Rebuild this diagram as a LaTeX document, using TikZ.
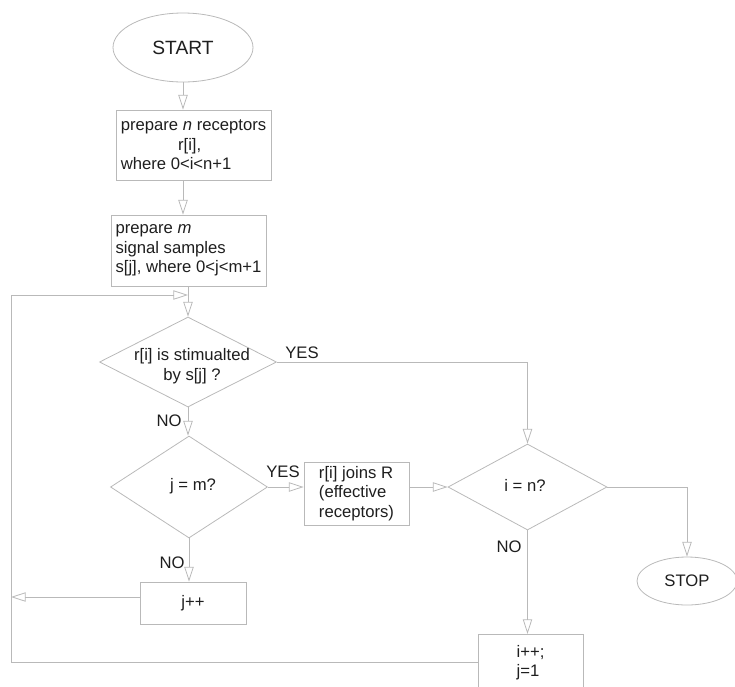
\documentclass[tikz,border=0pt]{standalone}
\usepackage{fontspec}
\setmainfont{Liberation Sans}
\usetikzlibrary{shapes.geometric,arrows.meta}
\definecolor{ln}{RGB}{185,185,185}
\definecolor{tx}{RGB}{30,30,30}
\begin{document}
\begin{tikzpicture}[x=0.75pt,y=-0.75pt,
  every node/.style={font=\fontsize{12.5}{14.5}\selectfont, text=tx},
  box/.style={draw=ln, line width=0.6pt, rectangle, inner sep=0pt},
  dia/.style={draw=ln, line width=0.6pt, diamond, inner sep=0pt},
  oval/.style={draw=ln, line width=0.6pt, ellipse, inner sep=0pt},
  con/.style={draw=ln, line width=0.6pt},
  arr/.style={con, -{Triangle[open, length=11pt, width=7pt]}},
  lab/.style={inner sep=0pt}]
\clip (0,0) rectangle (735,686);
% nodes
\node[oval, minimum width=105pt, minimum height=51.75pt, font=\fontsize{14.4}{16}\selectfont] (start) at (183,47.5) {START};
\node[box, minimum width=116.25pt, minimum height=52.5pt, align=left] (b1) at (193.5,145) {prepare \textit{n} receptors\\\hspace{43pt}r[i],\\where 0<i<n+1};
\node[box, minimum width=116.25pt, minimum height=53.25pt, align=left] (b2) at (188.5,250.5) {prepare \textit{m}\\signal samples\\s[j], where 0<j<m+1};
\node[dia, minimum width=132.75pt, minimum height=67.5pt] (d1) at (188,362) {};
\node[align=center, font=\fontsize{12.5}{15}\selectfont] (d1t) at (192,366) {r[i] is stimualted\\by s[j] ?};
\node[dia, minimum width=117.75pt, minimum height=76.5pt] (d2) at (189,487) {};
\node (d2t) at (193,486) {j = m?};
\node[box, minimum width=78.75pt, minimum height=47.25pt, align=left] (b3) at (356.5,493.5) {r[i] joins R\\(effective\\receptors)};
\node[dia, minimum width=119.25pt, minimum height=64.5pt] (d3) at (527.5,487) {};
\node (d3t) at (525,485) {i = n?};
\node[oval, minimum width=75pt, minimum height=36pt] (stop) at (687,581) {STOP};
\node[box, minimum width=79.5pt, minimum height=31.5pt] (jpp) at (193,603) {j++};
\node[box, anchor=north, minimum width=78.75pt, minimum height=49.5pt, align=left, text depth=10pt] (ipp) at (530.5,634) {i++;\\j=1};
\coordinate (loopL) at (11,295);
\coordinate (loopE) at (d1.north |- loopL);
% connectors
\draw[arr] (start.south) -- (start.south |- b1.north);
\draw[arr] (start.south |- b1.south) -- (start.south |- b2.north);
\draw[arr] (d1.north |- b2.south) -- (d1.north);
\draw[arr] ([yshift=-21pt]ipp.north west) -| (loopL) -- (loopE);
\draw[arr] (d1.south) -- (d1.south |- d2.north);
\draw[arr] (d1.east) -| (d3.north);
\draw[arr] (d2.east) -- (d2.east -| b3.west);
\draw[arr] (b3.east |- d3.west) -- (d3.west);
\draw[arr] (d3.east) -| (stop.north);
\draw[arr] (d3.south) -- (d3.south |- ipp.north);
\draw[arr] (d2.south) -- (d2.south |- jpp.north);
\draw[arr] ([yshift=4.5pt]jpp.west) -- ([yshift=4.5pt]jpp.west -| loopL);
% labels
\node[lab] (l1) at (302,353) {YES};
\node[lab] (l2) at (169,421) {NO};
\node[lab] (l3) at (283,472) {YES};
\node[lab] (l4) at (172,563) {NO};
\node[lab] (l5) at (509,547) {NO};
\end{tikzpicture}
\end{document}
